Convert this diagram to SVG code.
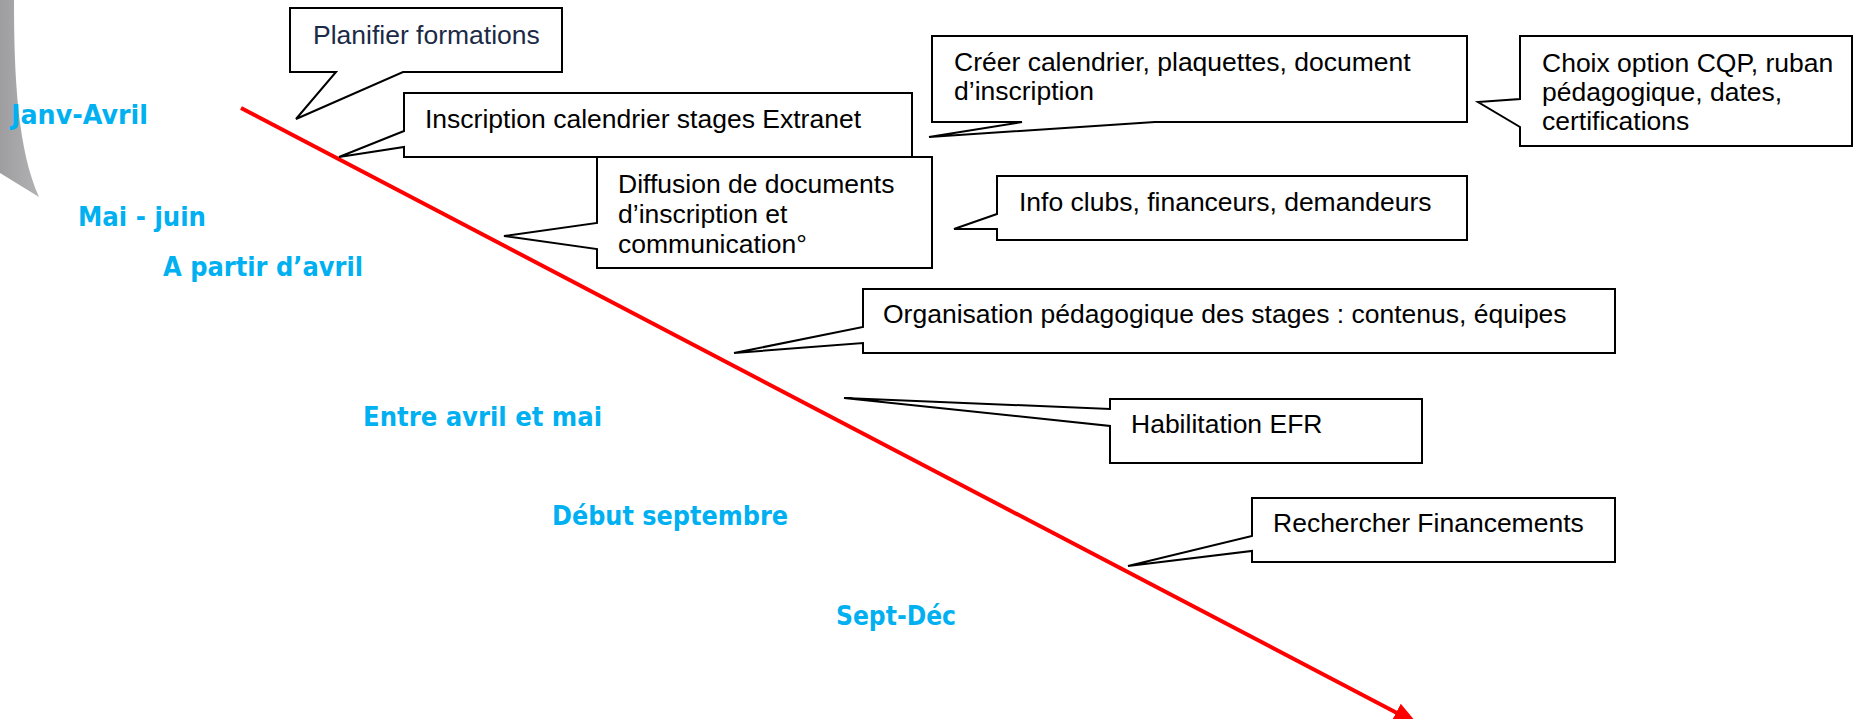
<svg xmlns="http://www.w3.org/2000/svg" width="1854" height="719" viewBox="0 0 1854 719">
  <style>
    .callout { fill: #ffffff; stroke: #000000; stroke-width: 2; stroke-linejoin: miter; }
    .txt { font-family: "Liberation Sans", Arial, sans-serif; font-size: 26.5px; fill: #000000; }
    .navy { fill: #1B2A47; }
    .period { font-family: "DejaVu Sans", Tahoma, sans-serif; font-weight: bold; font-size: 26px; fill: #00B0F0; }
    .timeline { stroke: #FF0000; stroke-width: 4; fill: none; }
  </style>
  <defs>
    <linearGradient id="swoosh" x1="0" y1="0" x2="1" y2="0">
      <stop offset="0" stop-color="#9E9EA0"/>
      <stop offset="1" stop-color="#B2B2B4"/>
    </linearGradient>
    <marker id="arrow" markerUnits="userSpaceOnUse" markerWidth="26" markerHeight="22" viewBox="0 -11 26 22" refX="1" refY="0" orient="auto">
      <path d="M0,-10 L24,0 L0,10 Z" fill="#FF0000"/>
    </marker>
  </defs>

  <!-- decorative silver swoosh on the left edge -->
  <path id="swoosh-shape" d="M0,0 L14,0 C14,80 18,150 39,197 L0,173 Z" fill="url(#swoosh)"/>

  <!-- period labels -->
  <g id="periods">
    <text class="period" x="11" y="124" textLength="137" lengthAdjust="spacingAndGlyphs">Janv-Avril</text>
    <text class="period" x="78" y="226" textLength="128" lengthAdjust="spacingAndGlyphs">Mai - juin</text>
    <text class="period" x="163" y="276" textLength="200" lengthAdjust="spacingAndGlyphs">A partir d’avril</text>
    <text class="period" x="363" y="426" textLength="239" lengthAdjust="spacingAndGlyphs">Entre avril et mai</text>
    <text class="period" x="552" y="525" textLength="236" lengthAdjust="spacingAndGlyphs">Début septembre</text>
    <text class="period" x="836" y="625" textLength="120" lengthAdjust="spacingAndGlyphs">Sept-Déc</text>
  </g>

  <!-- time axis -->
  <g id="connectors">
    <line class="timeline" x1="241" y1="108" x2="1397" y2="713" marker-end="url(#arrow)"/>
  </g>

  <!-- callouts -->
  <g id="planifier">
    <path class="callout" d="M290,8 H562 V72 H403 L296,119 L336,72 H290 Z"/>
    <text class="txt navy" x="313" y="44">Planifier formations</text>
  </g>

  <g id="inscription">
    <path class="callout" d="M404,93 H912 V157 H404 V147 L339,157 L404,131 Z"/>
    <text class="txt" x="425" y="128">Inscription calendrier stages Extranet</text>
  </g>

  <g id="diffusion">
    <path class="callout" d="M597,157 H932 V268 H597 V249 L504,236 L597,223 Z"/>
    <text class="txt" x="618" y="193">Diffusion de documents</text>
    <text class="txt" x="618" y="223">d’inscription et</text>
    <text class="txt" x="618" y="253">communication°</text>
  </g>

  <g id="creer">
    <path class="callout" d="M932,36 H1467 V122 H1155 L929,137 L1022,122 H932 Z"/>
    <text class="txt" x="954" y="71">Créer calendrier, plaquettes, document</text>
    <text class="txt" x="954" y="100">d’inscription</text>
  </g>

  <g id="choix">
    <path class="callout" d="M1520,36 H1852 V146 H1520 V127 L1478,102 L1520,99 Z"/>
    <text class="txt" x="1542" y="72">Choix option CQP, ruban</text>
    <text class="txt" x="1542" y="101">pédagogique, dates,</text>
    <text class="txt" x="1542" y="130">certifications</text>
  </g>

  <g id="info">
    <path class="callout" d="M997,176 H1467 V240 H997 V229 L954,229 L997,214 Z"/>
    <text class="txt" x="1019" y="211">Info clubs, financeurs, demandeurs</text>
  </g>

  <g id="organisation">
    <path class="callout" d="M863,289 H1615 V353 H863 V343 L734,353 L863,327 Z"/>
    <text class="txt" x="883" y="323">Organisation pédagogique des stages : contenus, équipes</text>
  </g>

  <g id="habilitation">
    <path class="callout" d="M1110,399 H1422 V463 H1110 V426 L844,398 L1110,409 Z"/>
    <text class="txt" x="1131" y="433">Habilitation EFR</text>
  </g>

  <g id="financements">
    <path class="callout" d="M1252,498 H1615 V562 H1252 V551 L1128,566 L1252,536 Z"/>
    <text class="txt" x="1273" y="532">Rechercher Financements</text>
  </g>
</svg>
